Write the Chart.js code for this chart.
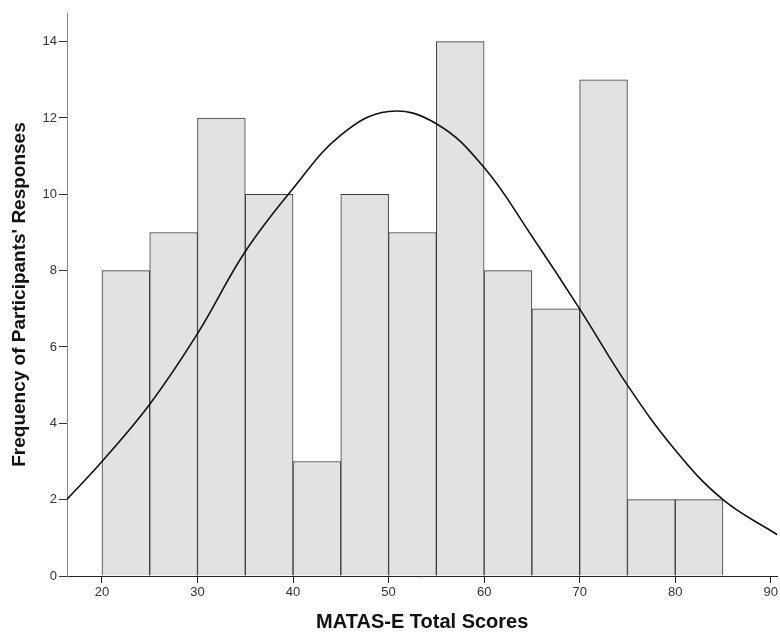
<!DOCTYPE html>
<html>
<head>
<meta charset="utf-8">
<script src="https://cdn.jsdelivr.net/npm/chart.js@4/dist/chart.umd.min.js"></script>
<style>
  html, body { margin: 0; padding: 0; background: #fff; }
</style>
</head>
<body>
<canvas id="histChart" width="780" height="634"></canvas>
<script>
// histogram bins (lower edge) and counts
const binStarts = [20, 25, 30, 35, 40, 45, 50, 55, 60, 65, 70, 75, 80];
const counts = [8, 9, 12, 10, 3, 10, 9, 14, 8, 7, 13, 2, 2];
const binWidth = 5;

// normal curve
const curveX = [16.3, 20, 25, 30, 35, 40, 45, 50, 55, 60, 65, 70, 75, 80, 85, 90.7];
const curveY = [2.0, 3.0, 4.5, 6.35, 8.5, 10.15, 11.55, 12.17, 11.85, 10.7, 8.9, 7.0, 5.0, 3.3, 2.0, 1.08];

const xTicks = [20, 30, 40, 50, 60, 70, 80, 90];
const yTicks = [0, 2, 4, 6, 8, 10, 12, 14];

const bars = binStarts.map((s, i) => ({ x: s + binWidth / 2, y: counts[i] }));
const curve = curveX.map((x, i) => ({ x: x, y: curveY[i] }));

new Chart(document.getElementById("histChart"), {
  type: 'bar',
  data: {
    datasets: [{
        type: 'line',
        data: curve,
        borderColor: "#111",
        borderWidth: 1.6,
        pointRadius: 0,
        tension: 0.4,
        fill: false,
        order: 0
      }, {
        data: bars,
        backgroundColor: "#e2e2e2",
        borderColor: "#3a3a3a",
        borderWidth: 1,
        barPercentage: 1,
        categoryPercentage: 1,
        order: 1
      }
    ]
  },
  options: {
    responsive: false,
    animation: false,
    layout: { padding: { top: 13, right: 2, left: 0, bottom: 0 } },
    plugins: {
      legend: { display: false },
      tooltip: { enabled: false }
    },
    scales: {
      x: {
        type: 'linear',
        offset: false,
        min: 16.34,
        max: 90.7,
        afterBuildTicks: s => { s.ticks = xTicks.map(v => ({ value: v })); },
        afterFit: s => { s.height = 58; },
        grid: { offset: false, drawOnChartArea: false, drawTicks: true, tickLength: 7, color: "#222" },
        border: { color: "#222", width: 1 },
        ticks: { color: "#333", font: { family: "Liberation Sans", size: 13 }, padding: 2 },
        title: {
          display: true,
          text: "MATAS-E Total Scores",
          color: "#111",
          font: { family: "Liberation Sans", size: 20, weight: 'bold' },
          padding: { top: 4, bottom: 0 }
        }
      },
      y: {
        min: 0,
        max: 14.75,
        afterBuildTicks: s => { s.ticks = yTicks.map(v => ({ value: v })); },
        afterFit: s => { s.width = 67; },
        grid: { drawOnChartArea: false, drawTicks: true, tickLength: 8, color: "#333" },
        border: { color: "#888", width: 1 },
        ticks: { color: "#333", font: { family: "Liberation Sans", size: 13 }, padding: 2 },
        title: {
          display: true,
          text: "Frequency of Participants' Responses",
          color: "#111",
          font: { family: "Liberation Sans", size: 19, weight: 'bold' },
          padding: { top: 8, bottom: 4 }
        }
      }
    }
  }
});
</script>
</body>
</html>
